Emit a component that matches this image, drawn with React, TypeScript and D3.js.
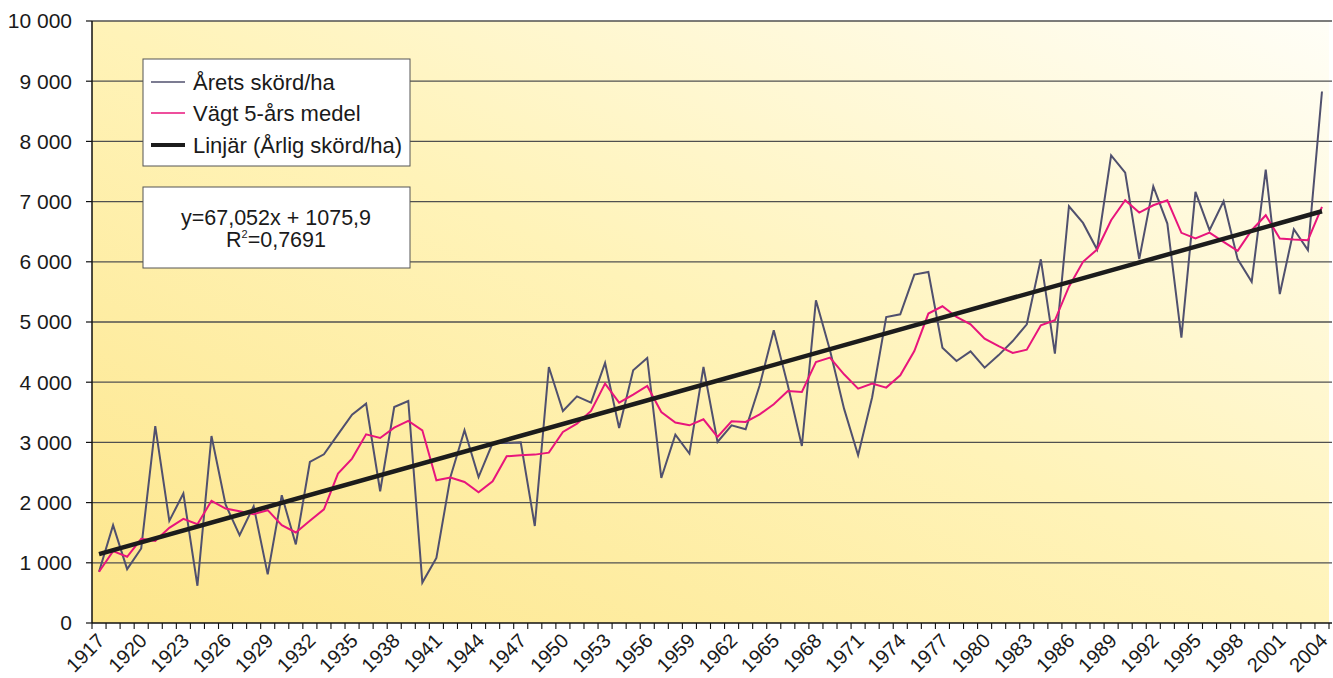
import { useEffect, useRef } from "react";
import * as d3 from "d3";

// Skörd per hektar, 1917-2004
const firstYear = 1917;
const lastYear = 2004;
const years: number[] = d3.range(firstYear, lastYear + 1);

const yearlyYield = [
  851, 1625, 895, 1238, 3272, 1697, 2150, 619, 3106, 1968,
  1459, 1940, 807, 2122, 1305, 2675, 2802, 3134, 3461, 3644,
  2188, 3588, 3688, 671, 1080, 2425, 3201, 2425, 2990, 2990,
  3000, 1611, 4252, 3522, 3765, 3661, 4319, 3239, 4198, 4402,
  2409, 3130, 2814, 4252, 3007, 3284, 3218, 3949, 4862, 3950,
  2940, 5360, 4530, 3561, 2786, 3750, 5083, 5128, 5787, 5831,
  4574, 4352, 4513, 4242, 4450, 4684, 4962, 6041, 4475, 6923,
  6646, 6204, 7768, 7481, 6044, 7254, 6635, 4740, 7160, 6525,
  7006, 6044, 5669, 7530, 5464, 6541, 6193, 8829,
];

const weightedMean = [
  851, 1194, 1100, 1398, 1365, 1581, 1730, 1642, 2029, 1901,
  1857, 1808, 1874, 1625, 1504, 1697, 1889, 2481, 2731, 3134,
  3073, 3246, 3356, 3201, 2370, 2415, 2342, 2171, 2354, 2769,
  2785, 2797, 2830, 3173, 3312, 3522, 3977, 3661, 3794, 3937,
  3505, 3329, 3284, 3384, 3090, 3351, 3339, 3467, 3633, 3854,
  3837, 4336, 4408, 4131, 3894, 3977, 3910, 4115, 4518, 5140,
  5261, 5083, 4962, 4724, 4600, 4485, 4541, 4945, 5028, 5586,
  6000, 6204, 6691, 7022, 6818, 6939, 7022, 6481, 6387, 6486,
  6331, 6182, 6525, 6773, 6387, 6370, 6359, 6912,
];

// linjär trend, värde vid första och sista året
const trendEnds = [1145, 6840];

const yTicks = [0, 1000, 2000, 3000, 4000, 5000, 6000, 7000, 8000, 9000, 10000];
const labelEvery = 3;

const legendLabels = ["Årets skörd/ha", "Vägt 5-års medel", "Linjär (Årlig skörd/ha)"];
const equationLine = "y=67,052x + 1075,9";
const r2Value = "=0,7691";

const colors = { yearly: "#50506e", mean: "#e8157c", trend: "#1c1c1c", grid: "#505050" };
const font = "'Liberation Sans', Arial, Helvetica, sans-serif";

const W = 1333;
const H = 678;

const fmtThousands = (v: number) => (v >= 1000 ? `${Math.floor(v / 1000)} 000` : `${v}`);

function YieldChart() {
  const ref = useRef<SVGSVGElement>(null);

  useEffect(() => {
    if (!ref.current) return;
    const svg = d3.select(ref.current);
    svg.selectAll("*").remove();

    const left = 92, right = 1329, top = 21, bottom = 623;

    const x = d3.scaleBand<number>().domain(years).range([left, right]).padding(0);
    const cx = (yr: number) => (x(yr) as number) + x.bandwidth() / 2;
    const y = d3.scaleLinear().domain([0, 10000]).range([bottom, top]);

    // bakgrund med gradient
    const defs = svg.append("defs");
    const grad = defs.append("linearGradient")
      .attr("id", "bg")
      .attr("x1", "0").attr("y1", "1").attr("x2", "1").attr("y2", "0");
    grad.append("stop").attr("offset", "0").attr("stop-color", "#fde68c");
    grad.append("stop").attr("offset", "0.5").attr("stop-color", "#fff3b8");
    grad.append("stop").attr("offset", "1").attr("stop-color", "#fffef7");

    svg.append("rect")
      .attr("x", left).attr("y", y(10000))
      .attr("width", right - left).attr("height", bottom - y(10000))
      .attr("fill", "url(#bg)");

    // rutnät
    svg.append("g")
      .selectAll("line")
      .data(yTicks.filter((t) => t > 0))
      .join("line")
      .attr("x1", left).attr("x2", right + 3)
      .attr("y1", (d) => y(d)).attr("y2", (d) => y(d))
      .attr("stroke", colors.grid)
      .attr("stroke-width", 1.3);

    // y-axel
    const yAxis = svg.append("g");
    yAxis.append("line")
      .attr("x1", left).attr("x2", left)
      .attr("y1", y(10000)).attr("y2", bottom)
      .attr("stroke", "#111").attr("stroke-width", 1.5);
    yAxis.selectAll("line.tick")
      .data(yTicks)
      .join("line")
      .attr("class", "tick")
      .attr("x1", left - 6).attr("x2", left)
      .attr("y1", (d) => y(d)).attr("y2", (d) => y(d))
      .attr("stroke", "#111").attr("stroke-width", 1.2);
    yAxis.selectAll("text")
      .data(yTicks)
      .join("text")
      .attr("x", 72)
      .attr("y", (d) => y(d))
      .attr("dy", "0.35em")
      .attr("text-anchor", "end")
      .style("font-family", font)
      .style("font-size", "21px")
      .style("fill", "#1a1a1a")
      .text(fmtThousands);

    // x-axel
    const xAxis = svg.append("g");
    xAxis.append("line")
      .attr("x1", left).attr("x2", right + 3)
      .attr("y1", bottom).attr("y2", bottom)
      .attr("stroke", "#111").attr("stroke-width", 1.5);
    const boundaries = years.map((yr) => x(yr) as number).concat([right]);
    xAxis.selectAll("line.tick")
      .data(boundaries)
      .join("line")
      .attr("class", "tick")
      .attr("x1", (d) => d).attr("x2", (d) => d)
      .attr("y1", bottom).attr("y2", bottom + 6)
      .attr("stroke", "#111").attr("stroke-width", 1.1);
    xAxis.selectAll("text")
      .data(years.filter((_, i) => i % labelEvery === 0))
      .join("text")
      .attr("transform", (d) => `translate(${cx(d) + 2},${bottom + 14}) rotate(-45)`)
      .attr("text-anchor", "end")
      .attr("dy", "0.35em")
      .style("font-family", font)
      .style("font-size", "20px")
      .style("fill", "#1a1a1a")
      .text((d) => String(d));

    // linjer
    const line = d3.line<number>()
      .x((_, i) => cx(years[i]))
      .y((d) => y(d));

    svg.append("path")
      .datum(yearlyYield)
      .attr("d", line)
      .attr("fill", "none")
      .attr("stroke", colors.yearly)
      .attr("stroke-width", 2)
      .attr("stroke-linejoin", "miter");

    svg.append("path")
      .datum(weightedMean)
      .attr("d", line)
      .attr("fill", "none")
      .attr("stroke", colors.mean)
      .attr("stroke-width", 2);

    svg.append("line")
      .attr("x1", cx(firstYear)).attr("y1", y(trendEnds[0]))
      .attr("x2", cx(lastYear)).attr("y2", y(trendEnds[1]))
      .attr("stroke", colors.trend)
      .attr("stroke-width", 4.5);

    // teckenförklaring
    const leg = svg.append("g").attr("transform", "translate(143,59)");
    leg.append("rect")
      .attr("width", 267).attr("height", 107)
      .attr("fill", "#fff").attr("stroke", "#555").attr("stroke-width", 1);
    const legendStroke = [colors.yearly, colors.mean, colors.trend];
    const legendWidth = [1.5, 1.5, 4];
    const rowY = [23, 54, 86];
    legendLabels.forEach((lab, i) => {
      leg.append("line")
        .attr("x1", 8).attr("x2", 42)
        .attr("y1", rowY[i]).attr("y2", rowY[i])
        .attr("stroke", legendStroke[i]).attr("stroke-width", legendWidth[i]);
      leg.append("text")
        .attr("x", 50).attr("y", rowY[i])
        .attr("dy", "0.35em")
        .style("font-family", font)
        .style("font-size", "22px")
        .style("fill", "#1a1a1a")
        .text(lab);
    });

    // ekvationsruta
    const eq = svg.append("g").attr("transform", "translate(143,187)");
    eq.append("rect")
      .attr("width", 267).attr("height", 81)
      .attr("fill", "#fff").attr("stroke", "#555").attr("stroke-width", 1);
    eq.append("text")
      .attr("x", 133).attr("y", 38)
      .attr("text-anchor", "middle")
      .style("font-family", font)
      .style("font-size", "21.5px")
      .style("fill", "#1a1a1a")
      .text(equationLine);
    const r2 = eq.append("text")
      .attr("x", 133).attr("y", 60)
      .attr("text-anchor", "middle")
      .style("font-family", font)
      .style("font-size", "21.5px")
      .style("fill", "#1a1a1a");
    r2.append("tspan").text("R");
    r2.append("tspan").attr("dy", -9).style("font-size", "11px").text("2");
    r2.append("tspan").attr("dy", 9).text(r2Value);
  }, []);

  return <svg ref={ref} width={W} height={H} style={{ position: "absolute", left: 0, top: 0, background: "#fff" }} />;
}

export default function App() {
  return <YieldChart />;
}
